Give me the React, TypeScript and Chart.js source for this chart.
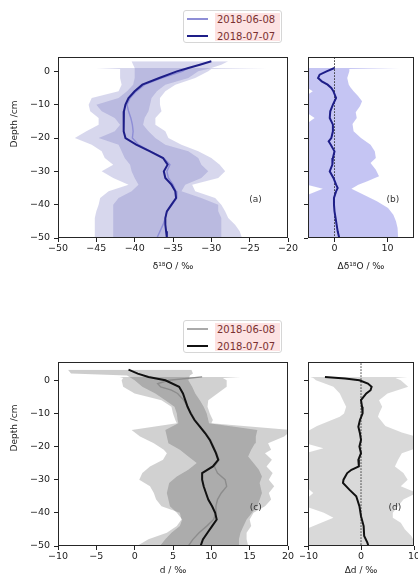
import React, { useEffect, useRef } from "react";
import { Chart, registerables } from "chart.js";
Chart.register(...registerables);

const FONT = "'DejaVu Sans', sans-serif";
const MINUS = "\u2212";

// ---------------- labels / ticks ----------------
const legendLabels = ["2018-06-08", "2018-07-07"];
const depthTicks = [0, -10, -20, -30, -40, -50];
const ticksA = [-50, -45, -40, -35, -30, -25, -20];
const ticksB = [0, 10];
const ticksC = [-10, -5, 0, 5, 10, 15, 20];
const ticksD = [-10, 0, 10];

// ---------------- panel (a): d18O ----------------
const depthA0707 = [3, 2, 1, 0, -2, -4, -6, -8, -10, -12, -14, -16, -18, -20, -22, -24, -26, -28, -30, -32, -34, -36, -38, -40, -42, -44, -46, -48, -50];
const meanA0707 = [-30.0, -31.5, -33.0, -34.5, -36.8, -39.0, -40.0, -40.8, -41.2, -41.4, -41.5, -41.4, -41.4, -41.2, -39.8, -38.0, -36.3, -35.7, -36.2, -36.0, -35.2, -34.7, -34.6, -35.2, -35.8, -36.0, -36.0, -35.9, -35.8];
const loA0707 = [-40.4, -40.2, -40.0, -40.0, -40.0, -40.2, -41.0, -42.1, -45.0, -44.3, -42.6, -41.9, -42.6, -44.7, -42.1, -41.7, -41.3, -40.6, -40.4, -40.0, -39.5, -40.4, -42.1, -42.8, -42.8, -42.8, -42.8, -42.8, -42.8];
const hiA0707 = [-27.8, -28.7, -30.0, -31.7, -33.0, -36.0, -37.1, -37.8, -38.0, -38.2, -38.7, -38.9, -38.2, -37.3, -36.0, -33.0, -31.7, -31.3, -30.4, -31.3, -33.4, -33.9, -31.3, -29.1, -29.1, -28.7, -28.7, -28.7, -28.7];

const depthA0608 = [1, 0.7, 0, -2, -4, -6, -8, -10, -12, -14, -16, -18, -20, -22, -24, -26, -28, -30, -32, -34, -36, -38, -40, -42, -44, -46, -48, -50];
const meanA0608 = [-33.0, -33.2, -33.8, -36.5, -38.7, -39.8, -40.6, -41.0, -40.8, -40.5, -40.3, -40.2, -40.3, -39.5, -37.9, -36.2, -35.4, -35.8, -35.6, -35.0, -34.6, -34.5, -35.1, -35.8, -36.0, -36.3, -36.7, -37.1];
const loA0608 = [-45.0, -41.9, -41.9, -41.9, -41.7, -42.1, -45.6, -46.0, -45.8, -44.7, -44.7, -46.3, -47.8, -45.6, -44.3, -43.9, -42.8, -44.3, -42.8, -40.8, -43.4, -44.5, -44.7, -45.0, -45.2, -45.2, -45.2, -45.2];
const hiA0608 = [-22.8, -30.0, -30.4, -32.1, -34.7, -36.0, -36.7, -36.7, -36.5, -37.3, -37.3, -36.0, -35.6, -33.9, -31.7, -30.0, -28.9, -28.2, -29.1, -32.5, -32.1, -29.5, -28.7, -28.2, -27.8, -26.9, -26.3, -26.0];

// ---------------- panel (b): delta d18O ----------------
const depthBMean = [1, 0, -1, -2, -3, -4, -5, -6, -8, -10, -12, -14, -16, -18, -20, -21, -22, -24, -26, -28, -30, -32, -34, -35, -36, -38, -40, -42, -44, -46, -48, -50];
const meanB = [0.0, -1.5, -2.8, -3.1, -2.4, -1.3, -0.6, -0.2, 0.3, -0.3, -0.8, -0.9, -0.3, -0.3, -0.6, -1.1, -0.7, 0.0, -0.3, -0.4, -0.9, -0.2, 0.3, 0.6, 0.3, -0.1, -0.1, 0.0, 0.2, 0.4, 0.6, 0.9];
const depthBBand = [1, 0.7, 0, -2, -4, -4.8, -6, -7.3, -9, -10.5, -12.3, -14, -15.8, -18, -20, -22, -24, -26, -27.5, -29.5, -31.5, -33, -34, -35.2, -37.2, -39, -41, -43, -45, -47, -50];
const loB = [-8, -8, -8, -8, -8, -5.3, -4.1, -5.3, -8, -8, -5.3, -3.75, -5.3, -8, -8, -8, -8, -8, -8, -8, -8, -8, -5.3, -2.2, -5.3, -8, -8, -8, -8, -8, -8];
const hiB = [12.2, 2.8, 2.8, 2.4, 2.7, 3.0, 3.6, 4.4, 5.2, 4.8, 4.0, 4.2, 3.4, 3.6, 5.0, 6.8, 7.6, 7.8, 6.8, 7.8, 8.4, 6.2, 4.5, 3.2, 5.7, 8.0, 10.1, 11.1, 11.6, 11.9, 12.0];

// ---------------- panel (c): d-excess ----------------
const depthC0707 = [3.2, 2, 1, 0, -2, -4, -6, -8, -10, -12, -14, -16, -18, -20, -22, -24, -26, -28, -30, -32, -34, -36, -38, -40, -42, -44, -46, -48, -50];
const meanC0707 = [-0.8, 0.4, 1.8, 4.0, 5.8, 6.3, 6.6, 6.9, 7.3, 7.8, 8.5, 9.2, 9.8, 10.2, 10.6, 10.9, 10.2, 8.8, 8.8, 9.0, 9.3, 9.6, 10.1, 10.5, 10.7, 10.1, 9.5, 8.9, 8.6];
const depthC0608 = [1, 0, -1, -2, -3, -4, -6, -8, -10, -12, -14, -16, -18, -20, -22, -24, -26, -28, -30, -32, -34, -36, -38, -40, -42, -44, -46, -48, -50];
const meanC0608 = [8.8, 4.5, 3.0, 3.4, 4.8, 5.6, 6.4, 6.9, 7.4, 7.9, 8.6, 9.3, 9.9, 10.3, 10.7, 11.0, 10.4, 10.8, 11.8, 12.0, 11.3, 10.8, 10.6, 10.6, 10.3, 9.4, 8.4, 7.6, 7.0];
const depthCBand0608 = [1, 0.7, 0, -2, -4, -6, -8, -10, -12, -13, -15, -17, -19, -21, -22, -24, -26, -28, -30, -32, -34, -36, -38, -40, -42, -44, -46, -48, -50];
const loC0608 = [-2.0, -1.5, -1.7, -1.5, 0.0, 3.5, 4.8, 5.0, 5.3, 5.5, -0.4, 0.7, 2.5, 3.8, 4.2, 3.7, 2.0, 1.0, 0.6, 2.0, 2.5, 2.8, 3.5, 5.9, 6.1, 5.5, 4.2, 1.8, 0.3];
const hiC0608 = [14.0, 11.5, 12.0, 12.0, 10.8, 9.6, 9.5, 9.8, 10.2, 10.0, 20.5, 19.5, 17.4, 17.8, 17.0, 17.9, 17.2, 18.0, 17.5, 18.2, 17.5, 17.8, 17.0, 15.5, 15.0, 15.2, 14.6, 14.6, 14.8];
const depthCBand0707 = [3.2, 2.0, 1.4, 0, -2, -4, -6, -8, -10, -12, -13, -15, -17, -19, -21, -23, -25, -27, -29, -31, -34, -38, -40, -42, -44, -46, -48, -50];
const loC0707 = [-8.7, -8.3, -1.0, 0.0, 1.0, 2.7, 4.0, 5.2, 5.5, 5.6, 5.7, 4.0, 4.2, 4.4, 5.9, 7.0, 8.1, 7.0, 5.5, 4.5, 4.2, 4.6, 5.5, 6.2, 5.9, 4.8, 4.0, 3.3];
const hiC0707 = [7.4, 7.6, 7.2, 7.0, 7.5, 7.9, 8.5, 9.0, 9.4, 9.6, 9.7, 16.0, 15.8, 15.7, 15.2, 14.8, 15.5, 16.2, 16.6, 16.3, 16.6, 16.0, 15.3, 14.6, 14.2, 13.8, 13.6, 13.5];

// ---------------- panel (d): delta d ----------------
const depthDMean = [1, 0.5, 0, -1, -2, -3, -4, -6, -8, -10, -12, -14, -16, -18, -20, -22, -24, -26, -27, -28, -30, -31, -33, -35, -38, -41, -44, -47, -49, -50];
const meanD = [-6.8, -3.0, -0.3, 1.3, 2.0, 1.8, 1.0, 0.0, 0.2, 0.3, -0.2, -0.5, -0.2, 0.0, -0.3, 0.0, -0.5, -0.4, -1.8, -2.6, -3.3, -3.4, -2.2, -0.9, -0.3, 0.0, 0.5, 0.6, 1.2, 1.4];
const depthDBand = [1, 0.7, 0, -2, -4, -6, -8, -10, -11, -13.8, -15.8, -17, -19, -20.5, -22, -24, -26, -28, -30, -32, -34, -36, -38, -40, -41.5, -43, -45, -47, -50];
const loD = [-9.6, -9.0, -8.5, -5.2, -4.0, -3.4, -2.8, -3.2, -4.0, -8.3, -10.5, -10.5, -10.5, -7.1, -10.5, -10.5, -10.5, -10.5, -10.5, -10.5, -9.0, -10.5, -10.5, -7.0, -5.2, -7.5, -10.5, -10.5, -10.5];
const hiD = [9.0, 6.5, 7.5, 8.9, 5.0, 3.4, 4.0, 3.4, 3.2, 4.6, 7.7, 10.5, 10.5, 10.5, 7.7, 7.0, 6.4, 8.0, 8.8, 7.5, 10.5, 8.0, 7.0, 6.0, 6.0, 7.5, 8.3, 9.5, 10.5];

const zeroLineX = [0, 0];
const zeroLineDepth = [6, -50];

// ---------------- helpers ----------------
const pts = (xs: number[], ys: number[]) => ys.map((y, i) => ({ x: xs[i], y }));
const fmt = (v: number) => (v < 0 ? MINUS + Math.abs(v) : String(v));

const lineDs = (xs: number[], ys: number[], color: string, width: number, order: number, dash?: number[]) => ({
  data: pts(xs, ys),
  borderColor: color,
  borderWidth: width,
  borderDash: dash || [],
  pointRadius: 0,
  fill: false,
  order,
});

const bandDs = (depth: number[], lo: number[], hi: number[], color: string, loIndex: number, order: number) => [
  { data: pts(lo, depth), borderColor: "rgba(0,0,0,0)", borderWidth: 0, pointRadius: 0, backgroundColor: color, fill: loIndex + 1, order },
  { data: pts(hi, depth), borderColor: "rgba(0,0,0,0)", borderWidth: 0, pointRadius: 0, fill: false, order },
];

const framePlugin = {
  id: "frame",
  afterDraw(chart: any, _args: any, opts: any) {
    const { ctx, chartArea: a } = chart;
    ctx.save();
    ctx.strokeStyle = "#262626";
    ctx.lineWidth = 1;
    ctx.strokeRect(Math.round(a.left) + 0.5, Math.round(a.top) + 0.5, Math.round(a.right - a.left) - 1, Math.round(a.bottom - a.top) - 1);
    ctx.fillStyle = "#333";
    ctx.font = `9px ${FONT}`;
    ctx.textAlign = "center";
    ctx.textBaseline = "middle";
    ctx.fillText(opts.label, a.left + opts.lx * (a.right - a.left), a.top + opts.ly * (a.bottom - a.top));
    if (opts.yTitle) {
      ctx.translate(opts.yTitle.x, opts.yTitle.y);
      ctx.rotate(-Math.PI / 2);
      ctx.fillStyle = "#222";
      ctx.fillText("Depth /cm", 0, 0);
    }
    ctx.restore();
  },
};

type Spec = {
  left: number; top: number; width: number; height: number;
  padTop: number; padRight: number; yWidth: number; xHeight: number;
  xMin: number; xMax: number; yMax: number; xTicks: number[]; showYLabels: boolean;
  xTitle: string; xTitlePad: number; yTitle?: { x: number; y: number };
  label: string; lx: number; ly: number; datasets: any[];
};

function buildConfig(s: Spec): any {
  return {
    type: "line",
    data: { datasets: s.datasets },
    options: {
      animation: false,
      responsive: false,
      indexAxis: "y",
      layout: { padding: { top: s.padTop, right: s.padRight, left: 0, bottom: 0 } },
      elements: { line: { tension: 0 }, point: { radius: 0 } },
      plugins: {
        legend: { display: false },
        tooltip: { enabled: false },
        frame: { label: s.label, lx: s.lx, ly: s.ly, yTitle: s.yTitle },
      },
      scales: {
        x: {
          type: "linear",
          position: "bottom",
          min: s.xMin,
          max: s.xMax,
          afterBuildTicks: (ax: any) => { ax.ticks = s.xTicks.map((v) => ({ value: v })); },
          afterFit: (ax: any) => { ax.height = s.xHeight; ax.paddingLeft = 0; ax.paddingRight = 0; },
          ticks: { font: { family: FONT, size: 9.5 }, color: "#222", padding: 0.5, maxRotation: 0, autoSkip: false, callback: (v: any) => fmt(Number(v)) },
          grid: { drawOnChartArea: false, drawTicks: true, tickLength: 4, color: "#222" },
          border: { display: false },
          title: { display: true, text: s.xTitle, font: { family: FONT, size: 9 }, color: "#222", padding: { top: 0, bottom: s.xTitlePad } },
        },
        y: {
          type: "linear",
          position: "left",
          min: -50,
          max: s.yMax,
          afterBuildTicks: (ax: any) => { ax.ticks = depthTicks.map((v) => ({ value: v })); },
          afterFit: (ax: any) => { ax.width = s.yWidth; ax.paddingTop = 0; ax.paddingBottom = 0; },
          ticks: { display: s.showYLabels, font: { family: FONT, size: 9.5 }, color: "#222", padding: 4, autoSkip: false, callback: (v: any) => fmt(Number(v)) },
          grid: { drawOnChartArea: false, drawTicks: true, tickLength: 4, color: "#222" },
          border: { display: false },
        },
      },
    },
    plugins: [framePlugin],
  };
}

function Panel({ spec }: { spec: Spec }) {
  const ref = useRef<HTMLCanvasElement>(null);
  useEffect(() => {
    const chart = new Chart(ref.current as HTMLCanvasElement, buildConfig(spec));
    return () => chart.destroy();
  }, []);
  return (
    <canvas
      ref={ref}
      width={spec.width}
      height={spec.height}
      style={{ position: "absolute", left: spec.left, top: spec.top, width: spec.width, height: spec.height }}
    />
  );
}

function Legend({ top, colors, widths }: { top: number; colors: string[]; widths: number[] }) {
  return (
    <div style={{ position: "absolute", left: 183, top, width: 99, height: 33, border: "1px solid #d6d6d6", borderRadius: 3, background: "#fff", boxSizing: "border-box" }}>
      <div style={{ position: "absolute", left: 31, top: 2, width: 65, height: 28, background: "#fde2e2" }} />
      {legendLabels.map((lab, i) => (
        <div key={lab} style={{ position: "absolute", left: 0, top: 1.5 + i * 17, width: 97, height: 13 }}>
          <div style={{ position: "absolute", left: 3, top: 6.5 - widths[i] / 2, width: 21, height: widths[i], background: colors[i] }} />
          <span style={{ position: "absolute", left: 33, top: 0, fontFamily: FONT, fontSize: 10, lineHeight: "13px", color: "#7a3030", whiteSpace: "nowrap" }}>{lab}</span>
        </div>
      ))}
    </div>
  );
}

const PURPLE_LIGHT = "#8e8ed6";
const PURPLE_DARK = "#1e1e88";
const GRAY_LINE = "#8c8c8c";
const BLACK_LINE = "#111111";
const BAND_PURPLE = "rgba(110,110,190,0.28)";

const specA: Spec = {
  left: 0, top: 50, width: 300, height: 230, padTop: 7, padRight: 12, yWidth: 58, xHeight: 42,
  xMin: -50, xMax: -20, yMax: 4.3, xTicks: ticksA, showYLabels: true,
  xTitle: "δ¹⁸O / ‰", xTitlePad: 8, yTitle: { x: 15, y: 74 },
  label: "(a)", lx: 0.859, ly: 0.79,
  datasets: [
    lineDs(meanA0707, depthA0707, PURPLE_DARK, 2, 0),
    lineDs(meanA0608, depthA0608, PURPLE_LIGHT, 1.4, 1),
    ...bandDs(depthA0608, loA0608, hiA0608, BAND_PURPLE, 2, 5),
    ...bandDs(depthA0707, loA0707, hiA0707, BAND_PURPLE, 4, 4),
  ],
};

const specB: Spec = {
  left: 300, top: 50, width: 118, height: 230, padTop: 7, padRight: 4, yWidth: 8, xHeight: 42,
  xMin: -5, xMax: 15, yMax: 4.3, xTicks: ticksB, showYLabels: false,
  xTitle: "Δδ¹⁸O / ‰", xTitlePad: 8,
  label: "(b)", lx: 0.8, ly: 0.79,
  datasets: [
    lineDs(meanB, depthBMean, PURPLE_DARK, 2, 0),
    lineDs(zeroLineX, zeroLineDepth, "#333", 1, 1, [1.5, 1.5]),
    ...bandDs(depthBBand, loB, hiB, "rgba(110,110,225,0.4)", 2, 5),
  ],
};

const specC: Spec = {
  left: 0, top: 355, width: 300, height: 221, padTop: 7, padRight: 12, yWidth: 58, xHeight: 30,
  xMin: -10, xMax: 20, yMax: 5.5, xTicks: ticksC, showYLabels: true,
  xTitle: "d / ‰", xTitlePad: 0, yTitle: { x: 15, y: 73 },
  label: "(c)", lx: 0.86, ly: 0.79,
  datasets: [
    lineDs(meanC0707, depthC0707, BLACK_LINE, 2, 0),
    lineDs(meanC0608, depthC0608, GRAY_LINE, 1.4, 1),
    ...bandDs(depthCBand0608, loC0608, hiC0608, "rgba(90,90,90,0.28)", 2, 5),
    ...bandDs(depthCBand0707, loC0707, hiC0707, "rgba(70,70,70,0.27)", 4, 4),
  ],
};

const specD: Spec = {
  left: 300, top: 355, width: 118, height: 221, padTop: 7, padRight: 4, yWidth: 8, xHeight: 30,
  xMin: -10, xMax: 10, yMax: 5.5, xTicks: ticksD, showYLabels: false,
  xTitle: "Δd / ‰", xTitlePad: 0,
  label: "(d)", lx: 0.82, ly: 0.79,
  datasets: [
    lineDs(meanD, depthDMean, BLACK_LINE, 2, 0),
    lineDs(zeroLineX, zeroLineDepth, "#333", 1, 1, [1.5, 1.5]),
    ...bandDs(depthDBand, loD, hiD, "rgba(120,120,120,0.28)", 2, 5),
  ],
};

export default function App() {
  return (
    <div style={{ position: "absolute", left: 0, top: 0, width: 418, height: 576, background: "#fff", overflow: "hidden" }}>
      <Panel spec={specA} />
      <Panel spec={specB} />
      <Panel spec={specC} />
      <Panel spec={specD} />
      <Legend top={10} colors={[PURPLE_LIGHT, PURPLE_DARK]} widths={[2, 2]} />
      <Legend top={320} colors={["#aaaaaa", BLACK_LINE]} widths={[2.5, 2]} />
    </div>
  );
}
